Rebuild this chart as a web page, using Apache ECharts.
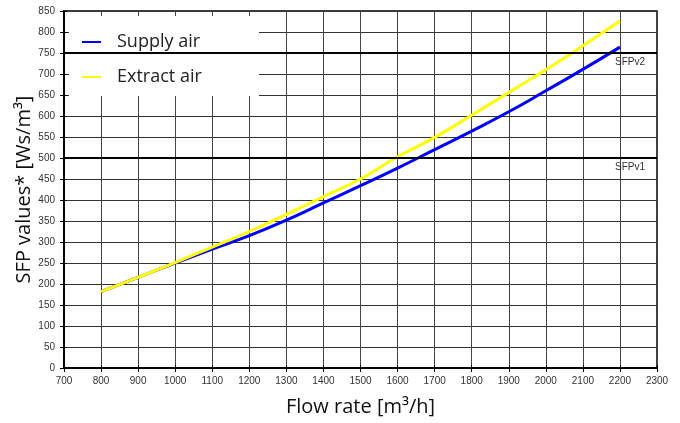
<!DOCTYPE html>
<html><head><meta charset="utf-8">
<script src="https://cdn.jsdelivr.net/npm/echarts@6/dist/echarts.min.js"></script>
<style>html,body{margin:0;padding:0;background:#fff}#c{width:680px;height:423px}</style>
</head><body><div id="c"></div>
<script>
const flowRates = [800, 900, 1000, 1100, 1200, 1300, 1400, 1500, 1600, 1700, 1800, 1900, 2000, 2100, 2200];
const supplyAir = [182, 216, 250, 283, 315, 352, 393, 434, 476, 520, 564, 610, 660, 711, 764];
const extractAir = [182, 216, 251, 288, 325, 366, 408, 450, 503, 549, 602, 656, 710, 767, 826];
const sfpLimits = [{ name: 'SFPv1', value: 500 }, { name: 'SFPv2', value: 750 }];

const chart = echarts.init(document.getElementById('c'), null, { renderer: 'canvas' });
const tickFont = { fontFamily: 'Liberation Sans', fontSize: 10, color: '#333' };
const titleFont = { fontFamily: 'Open Sans', fontSize: 20, color: '#111' };

chart.setOption({
  animation: false,
  backgroundColor: '#fff',
  grid: { left: 64, right: 23, top: 11, bottom: 55, show: true, borderColor: '#000', borderWidth: 1.5, backgroundColor: 'transparent' },
  xAxis: [{
    type: 'value', min: 700, max: 2300, interval: 100,
    name: 'Flow rate [m³/h]', nameLocation: 'middle', nameGap: 29, nameMoveOverlap: false, nameTextStyle: titleFont,
    axisLine: { show: true, lineStyle: { color: '#000', width: 2 } },
    axisTick: { show: true, length: 4, lineStyle: { color: '#000' } },
    axisLabel: Object.assign({ margin: 8, formatter: v => String(v) }, tickFont),
    splitLine: { show: true, lineStyle: { color: '#444', width: 1 } }
  }, {
    type: 'value', min: 700, max: 2300, interval: 100, position: 'bottom',
    axisLine: { show: false }, axisTick: { show: true, inside: true, length: 3, lineStyle: { color: '#000' } },
    axisLabel: { show: false }, splitLine: { show: false }
  }],
  yAxis: [{
    type: 'value', min: 0, max: 850, interval: 50,
    name: 'SFP values* [Ws/m³]', nameLocation: 'middle', nameGap: 30, nameMoveOverlap: false, nameTextStyle: titleFont,
    axisLine: { show: true, lineStyle: { color: '#000', width: 2 } },
    axisTick: { show: true, length: 4, lineStyle: { color: '#000' } },
    axisLabel: Object.assign({ margin: 9, formatter: v => String(v) }, tickFont),
    splitLine: { show: true, lineStyle: { color: '#333', width: 1 } }
  }, {
    type: 'value', min: 0, max: 850, interval: 50, position: 'left',
    axisLine: { show: false }, axisTick: { show: true, inside: true, length: 3, lineStyle: { color: '#000' } },
    axisLabel: { show: false }, splitLine: { show: false }
  }],
  graphic: [{
    type: 'rect', left: 69, top: 16, z: 3,
    shape: { width: 190, height: 80 }, style: { fill: '#fff' }
  }],
  legend: {
    left: 77, top: 28, orient: 'vertical', itemGap: 17, z: 10,
    itemWidth: 19, itemHeight: 2, icon: 'rect',
    textStyle: { fontFamily: 'Open Sans', fontSize: 18, color: '#222', padding: [0, 0, 0, 11] },
    data: ['Supply air', 'Extract air']
  },
  series: [{
    name: 'Supply air', type: 'line', showSymbol: false, symbol: 'none', smooth: true,
    itemStyle: { color: '#0000ff' },
    lineStyle: { color: '#0000ff', width: 3 },
    data: flowRates.map((f, i) => [f, supplyAir[i]]),
    markLine: {
      silent: true, symbol: 'none', animation: false,
      lineStyle: { color: '#000', width: 2, type: 'solid' },
      label: { show: true, position: 'insideEndBottom', formatter: p => p.name, fontFamily: 'Liberation Sans', fontSize: 10, color: '#333', distance: [12, 4] },
      data: sfpLimits.map(s => ({ name: s.name, yAxis: s.value }))
    }
  }, {
    name: 'Extract air', type: 'line', showSymbol: false, symbol: 'none', smooth: true,
    itemStyle: { color: '#ffff00' },
    lineStyle: { color: '#ffff00', width: 3 },
    data: flowRates.map((f, i) => [f, extractAir[i]])
  }]
});
</script></body></html>
